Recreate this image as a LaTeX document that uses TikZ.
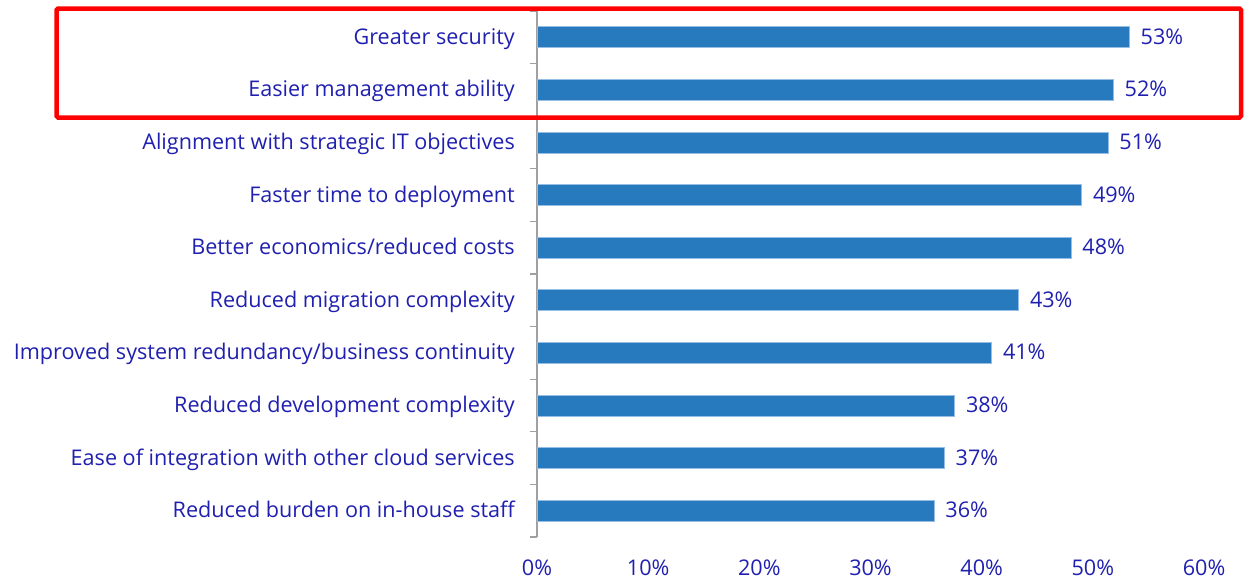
\documentclass[tikz,border=0pt]{standalone}
\usepackage{fontspec}
\setmainfont{Open Sans}
\definecolor{barblue}{RGB}{39,122,190}
\definecolor{baredge}{RGB}{150,190,228}
\definecolor{txtblue}{RGB}{32,32,176}
\definecolor{axisgrey}{RGB}{160,160,160}
\definecolor{hlred}{RGB}{255,0,0}
\begin{document}
\begin{tikzpicture}[x=1pt,y=-1pt,
  every node/.style={font=\fontsize{21.6}{26}\selectfont, text=txtblue, inner sep=0pt},
  barbox/.style={fill=barblue, draw=baredge, line width=0.8pt, minimum height=21pt, inner sep=0pt, anchor=west},
  catlabel/.style={anchor=base east},
  vallabel/.style={anchor=base west},
  ticklabel/.style={anchor=base},
  axisline/.style={draw=axisgrey, line width=1.2pt},
  highlight/.style={draw=hlred, line width=4.5pt, rounded corners=1.5pt}]
\useasboundingbox (0,0) rectangle (1244,582);
% axis
\coordinate (axtop) at (537,11);
\coordinate (axbot) at (537,537);
\draw[axisline] (axtop) -- (axbot);
\foreach \k in {0,...,10}{
  \coordinate (t\k) at (537,{11+52.6*\k});
  \draw[axisline] (t\k) -- ++(-7,0);
}
% bars
\foreach \i/\lab/\v/\e in {
  1/{Greater security}/53/1129,
  2/{Easier management ability}/52/1113,
  3/{Alignment with strategic IT objectives}/51/1107.7,
  4/{Faster time to deployment}/49/1081.3,
  5/{Better economics/reduced costs}/48/1070.7,
  6/{Reduced migration complexity}/43/1018.3,
  7/{Improved system redundancy/business continuity}/41/991.3,
  8/{Reduced development complexity}/38/954.3,
  9/{Ease of integration with other cloud services}/37/944,
  10/{Reduced burden on in-house staff}/36/933.7}{
  \pgfmathsetmacro\yc{37.3+52.6*(\i-1)}
  \pgfmathsetmacro\w{\e-537}
  \node[barbox, minimum width=\w pt] (bar\i) at (537,\yc) {};
  \node[catlabel] (cat\i) at (515,\yc+7) {\lab};
  \node[vallabel] (val\i) at (\e+11.5,\yc+7) {\v\%};
}
% x axis labels
\foreach \k in {0,...,6}{
  \pgfmathtruncatemacro\p{10*\k}
  \node[ticklabel] (x\k) at ({537+111.17*\k},575) {\p\%};
}
% highlight box
\coordinate (hlA) at (56.5,8.5);
\coordinate (hlB) at (1241,117.5);
\draw[highlight] (hlA) rectangle (hlB);
\end{tikzpicture}
\end{document}
